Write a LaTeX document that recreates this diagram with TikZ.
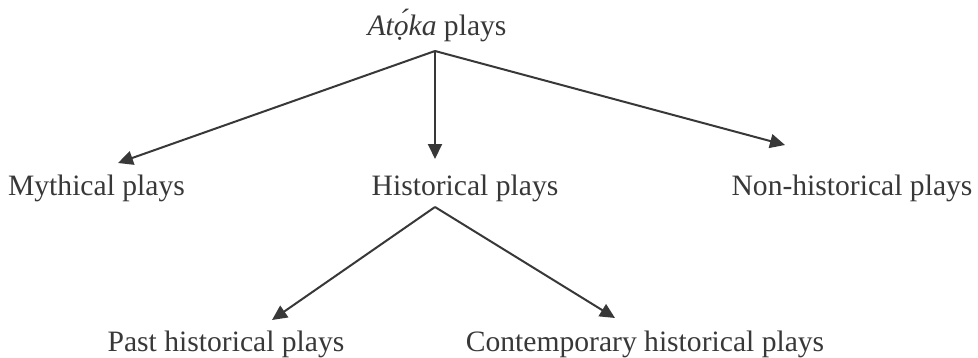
\documentclass[tikz,border=0pt]{standalone}
\usepackage{fontspec}
\setmainfont{Liberation Serif}
\usetikzlibrary{arrows.meta}
\definecolor{inkgray}{HTML}{383838}

\begin{document}
\begin{tikzpicture}[x=0.5pt, y=-0.5pt,
    every node/.style={anchor=base, inner sep=0pt, text=inkgray,
                       font=\fontsize{14.8}{17}\selectfont},
    arr/.style={-{Triangle[length=7.5pt,width=7pt]}, line width=1pt, draw=inkgray}]
  \useasboundingbox (0,0) rectangle (978,358);
  % labels
  \node (atoka) at (437,36) {\textit{Atọ́ka} plays};
  \node (mythical) at (96.5,195) {Mythical plays};
  \node (historical) at (465,195) {Historical plays};
  \node (nonhist) at (852,195) {Non-historical plays};
  \node (past) at (226,351) {Past historical plays};
  \node (contemp) at (645,351) {Contemporary historical plays};
  % branching points
  \coordinate (split1) at ([xshift=-1pt,yshift=-7.5pt]atoka.base);
  \coordinate (split2) at ([xshift=-15pt,yshift=-6pt]historical.base);
  % arrows
  \draw[arr] (split1) -- ([xshift=10.75pt,yshift=16pt]mythical.base);
  \draw[arr] (split1) -- ([xshift=-15pt,yshift=18pt]historical.base);
  \draw[arr] (split1) -- ([xshift=-33.5pt,yshift=25pt]nonhist.base);
  \draw[arr] (split2) -- ([xshift=23pt,yshift=15.5pt]past.base);
  \draw[arr] (split2) -- ([xshift=-15pt,yshift=16.5pt]contemp.base);
\end{tikzpicture}
\end{document}
